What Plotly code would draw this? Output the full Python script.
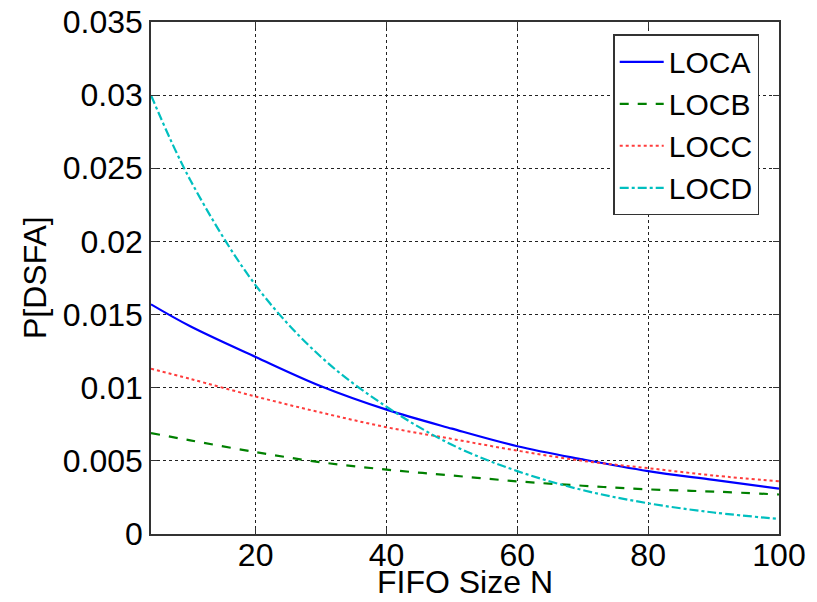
import plotly.graph_objects as go

x_vals = [4, 10, 20, 30, 40, 50, 60, 70, 80, 90, 100]
loca = [0.0157, 0.0142, 0.0121, 0.0101, 0.0085, 0.0072, 0.0060, 0.0051, 0.0043, 0.0037, 0.0031]
locb = [0.0069, 0.0064, 0.0056, 0.0049, 0.0044, 0.0040, 0.0036, 0.0033, 0.00305, 0.0029, 0.0027]
locc = [0.0113, 0.0106, 0.0094, 0.0083, 0.0073, 0.0065, 0.0057, 0.0050, 0.0045, 0.0040, 0.0036]
locd = [0.0300, 0.0242, 0.0170, 0.0121, 0.0087, 0.0061, 0.0043, 0.0030, 0.0021, 0.00147, 0.00103]

x_ticks = [20, 40, 60, 80, 100]
y_ticks = [0, 0.005, 0.01, 0.015, 0.02, 0.025, 0.03, 0.035]
y_ticklabels = ["0", "0.005", "0.01", "0.015", "0.02", "0.025", "0.03", "0.035"]

series = [
    ("LOCA", loca, "rgb(0,0,255)", "solid", 2.2),
    ("LOCB", locb, "rgb(0,128,0)", "dash", 2.2),
    ("LOCC", locc, "rgb(255,60,60)", "dot", 2),
    ("LOCD", locd, "rgb(0,191,191)", "dashdot", 2.2),
]

fig = go.Figure()
for name, ys, col, dash, w in series:
    fig.add_trace(go.Scatter(x=x_vals, y=ys, mode="lines", name=name,
                             line=dict(color=col, dash=dash, width=w, shape="spline")))

font = "Liberation Sans, Arial, Helvetica, sans-serif"
fs = 32
axis_common = dict(showline=True, linecolor="#333", linewidth=1.5, mirror="ticks",
                   ticks="inside", ticklen=6, tickcolor="#333", automargin=False,
                   ticklabeloverflow="allow",
                   showgrid=True, gridcolor="#222", griddash="dot", gridwidth=1,
                   zeroline=False, tickfont=dict(size=fs, color="black", family=font))

fig.update_xaxes(range=[4, 100], tickvals=x_ticks, ticklabelstandoff=-8, **axis_common)
fig.update_yaxes(range=[0, 0.035], tickvals=y_ticks, ticktext=y_ticklabels, **axis_common)

fig.add_annotation(text="FIFO Size N", xref="paper", yref="paper", x=0.5, y=0,
                   xanchor="center", yanchor="middle", yshift=-48, showarrow=False,
                   font=dict(size=fs, color="black", family=font))
fig.add_annotation(text="P[DSFA]", xref="paper", yref="paper", x=0, y=0.5,
                   xanchor="center", yanchor="middle", xshift=-116, textangle=-90,
                   showarrow=False, font=dict(size=fs, color="black", family=font))

fig.update_layout(
    width=817, height=602,
    margin=dict(l=143, r=46, t=14, b=76),
    plot_bgcolor="white", paper_bgcolor="white",
    font=dict(family=font, color="black"),
    legend=dict(x=0.736, y=0.976, xanchor="left", yanchor="top",
                bgcolor="white", bordercolor="#333", borderwidth=1.5,
                font=dict(size=30, color="black", family=font),
                tracegroupgap=0, itemwidth=44),
    showlegend=True,
)

fig.write_html("out.html")
